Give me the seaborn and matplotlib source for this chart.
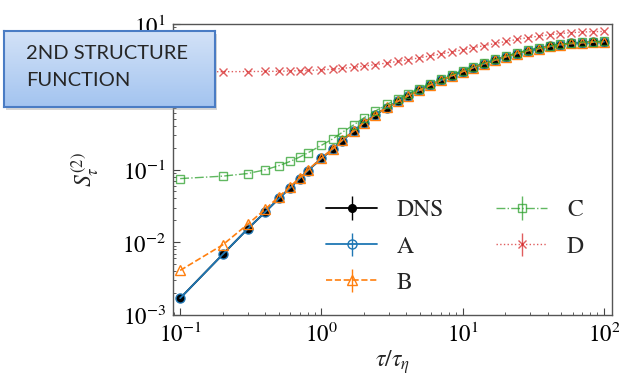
import numpy as np
import matplotlib
matplotlib.use("Agg")
import matplotlib.pyplot as plt
import seaborn as sns
from matplotlib.colors import LinearSegmentedColormap
from matplotlib.patches import Rectangle

# ----------------------
# data
# ----------------------
tau = [0.1, 0.2, 0.3, 0.4, 0.5, 0.6, 0.7, 0.8, 1.0, 1.2, 1.4, 1.7, 2.0, 2.4,
       2.9, 3.5, 4.1, 4.9, 5.9, 7.0, 8.4, 10.0, 11.9, 14.2, 17.0, 20.3, 24.2,
       28.9, 34.5, 41.2, 49.2, 58.8, 70.2, 83.8, 100.0]

s2_dns = [0.0017, 0.0068, 0.0152, 0.026, 0.040, 0.056, 0.075, 0.096, 0.142,
          0.19, 0.25, 0.34, 0.44, 0.56, 0.71, 0.87, 1.03, 1.22, 1.45, 1.68,
          1.95, 2.22, 2.52, 2.84, 3.2, 3.56, 3.93, 4.3, 4.6, 4.92, 5.2, 5.4,
          5.55, 5.65, 5.7]
s2_a = [0.0017, 0.0068, 0.0152, 0.026, 0.040, 0.056, 0.075, 0.096, 0.142,
        0.19, 0.25, 0.34, 0.44, 0.56, 0.71, 0.87, 1.03, 1.22, 1.45, 1.68,
        1.95, 2.22, 2.52, 2.84, 3.2, 3.56, 3.93, 4.3, 4.6, 4.92, 5.2, 5.4,
        5.55, 5.65, 5.7]
s2_b = [0.0041, 0.0092, 0.0176, 0.0284, 0.0424, 0.058, 0.077, 0.098, 0.144,
        0.192, 0.252, 0.342, 0.442, 0.562, 0.712, 0.872, 1.03, 1.22, 1.45,
        1.68, 1.95, 2.22, 2.52, 2.84, 3.2, 3.56, 3.93, 4.3, 4.6, 4.92, 5.2,
        5.4, 5.55, 5.65, 5.7]
s2_c = [0.075, 0.081, 0.088, 0.099, 0.113, 0.129, 0.148, 0.169, 0.215,
        0.263, 0.323, 0.413, 0.513, 0.633, 0.783, 0.943, 1.10, 1.29, 1.52,
        1.75, 2.02, 2.29, 2.59, 2.91, 3.27, 3.63, 4.0, 4.37, 4.67, 4.99,
        5.27, 5.47, 5.62, 5.72, 5.77]
s2_d = [2.20, 2.21, 2.22, 2.23, 2.24, 2.26, 2.28, 2.30, 2.34, 2.39, 2.45,
        2.54, 2.64, 2.76, 2.91, 3.07, 3.23, 3.42, 3.65, 3.88, 4.15, 4.42,
        4.72, 5.04, 5.4, 5.76, 6.13, 6.5, 6.8, 7.12, 7.4, 7.6, 7.75, 7.85,
        7.9]

labels = ["DNS", "A", "B", "C", "D"]
series = [s2_dns, s2_a, s2_b, s2_c, s2_d]

# ----------------------
# style
# ----------------------
sns.set_style("ticks")
pal = sns.color_palette("tab10")
plt.rcParams["font.family"] = ["STIXGeneral", "DejaVu Sans"]
plt.rcParams["mathtext.fontset"] = "stix"

styles = [
    dict(fmt="-o", color="black", mfc="black", ms=5.5, lw=1.3),
    dict(fmt="-o", color=pal[0], mfc="none", ms=6.5, lw=1.3),
    dict(fmt="--^", color=pal[1], mfc="none", ms=6.5, lw=1.2),
    dict(fmt="-.s", color=pal[2], mfc="none", ms=6, lw=1.0, alpha=0.75),
    dict(fmt=":x", color=pal[3], mfc="none", ms=6, lw=1.0, alpha=0.75),
]

fig = plt.figure(figsize=(6.19, 3.81), dpi=100)
ax = fig.add_axes([173 / 619, 1 - 315 / 381, 439 / 619, 291 / 381])

for lab, vals, st in zip(labels, series, styles):
    ax.errorbar(tau, vals, yerr=0, label=lab, elinewidth=1.0, **st)

ax.set_xscale("log")
ax.set_yscale("log")
ax.set_xlim(0.089, 114)
ax.set_ylim(1e-3, 1e1)
ax.set_xlabel(r"$\tau/\tau_\eta$", fontsize=17)
ax.set_ylabel(r"$S_\tau^{(2)}$", fontsize=17)
ax.xaxis.set_label_coords(0.5, -0.115)
ax.yaxis.set_label_coords(-0.165, 0.5)
ax.tick_params(which="both", direction="in", labelsize=16.5, colors="#444444",
               labelcolor="black")
ax.tick_params(which="major", length=5, pad=5)
ax.tick_params(which="minor", length=2.5)
for sp in ax.spines.values():
    sp.set_color("#555555")
    sp.set_linewidth(1.0)

ax.legend(ncol=2, loc="lower right", bbox_to_anchor=(0.985, 0.0),
          frameon=False, fontsize=17, handlelength=2.15, columnspacing=2.2,
          labelspacing=0.62, handletextpad=0.85)

# ----------------------
# title box on top
# ----------------------
bx, by, bw, bh = 4 / 619, 1 - 107 / 381, 211 / 619, 76 / 381
fig.add_artist(Rectangle((bx + 2 / 619, by - 3 / 381), bw, bh,
                         transform=fig.transFigure, color="#9a9a9a",
                         alpha=0.4, zorder=9, lw=0))
box = fig.add_axes([bx, by, bw, bh], zorder=10)
grad = np.linspace(0, 1, 100).reshape(-1, 1)
cmap = LinearSegmentedColormap.from_list("box", ["#d3e2f7", "#a3c4f0"])
box.imshow(grad, cmap=cmap, aspect="auto", extent=[0, 1, 0, 1])
box.set_xticks([])
box.set_yticks([])
for sp in box.spines.values():
    sp.set_color("#4a7cc4")
    sp.set_linewidth(1.5)
box.text(0.105, 0.70, "2ND STRUCTURE", fontsize=14.5, family="Lato",
         va="center", ha="left")
box.text(0.105, 0.355, "FUNCTION", fontsize=14.5, family="Lato",
         va="center", ha="left")

fig.savefig("out.png", dpi=100)
